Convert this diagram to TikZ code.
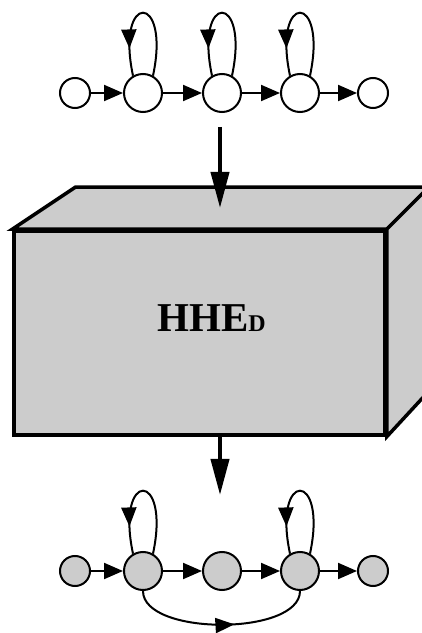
\documentclass[tikz,border=0pt]{standalone}
\usepackage{fontspec}
\setmainfont{Liberation Serif}
\usetikzlibrary{arrows.meta,decorations.markings,calc}
\definecolor{boxgrey}{RGB}{204,204,204}

\begin{document}
\begin{tikzpicture}[x=1pt, y=1pt,
    smallst/.style={circle, draw, line width=2pt, minimum size=30pt, inner sep=0pt},
    bigst/.style={circle, draw, line width=2pt, minimum size=38pt, inner sep=0pt},
    edge/.style={line width=2pt, -{Triangle[length=19pt,width=16pt]}},
    selfloop/.style={line width=2pt, postaction={decorate},
        decoration={markings, mark=at position 0.8 with {\arrow{Triangle[length=19pt,width=15pt]}}}},
    skip/.style={line width=2pt, postaction={decorate},
        decoration={markings, mark=at position 0.57 with {\arrow{Triangle[length=19pt,width=15pt]}}}},
    bigarrow/.style={line width=4pt, -{Triangle[length=36pt,width=18pt]}},
    face/.style={draw, fill=boxgrey, line width=3.5pt}]
    \useasboundingbox (0,0) rectangle (422,633);
    % input model
    \node[smallst] (t1) at (75,540) {};
    \node[bigst] (t2) at (143,540) {};
    \node[bigst] (t3) at (222,540) {};
    \node[bigst] (t4) at (300,540) {};
    \node[smallst] (t5) at (373,540) {};
    \draw[edge] (t1) -- (t2);
    \draw[edge] (t2) -- (t3);
    \draw[edge] (t3) -- (t4);
    \draw[edge] (t4) -- (t5);
    \draw[selfloop] (t2.60) .. controls +(18,84) and +(-18,84) .. (t2.120);
    \draw[selfloop] (t3.60) .. controls +(18,84) and +(-18,84) .. (t3.120);
    \draw[selfloop] (t4.60) .. controls +(18,84) and +(-18,84) .. (t4.120);
    % the box
    \node[face, minimum width=371pt, minimum height=204pt, inner sep=0pt] (hhed) at (199.5,300) {};
    \draw[face] (hhed.north west) -- ++(63,42) -- ($(hhed.north east)+(42,42)$)
        -- (hhed.north east) -- cycle;
    \draw[face] (hhed.north east) -- ++(42,42) -- ++(0,-204) -- (hhed.south east) -- cycle;
    \node[font=\bfseries\fontsize{41}{41}\selectfont, anchor=base, inner sep=0pt]
        (hhedtext) at (211.5,301) {HHE{\fontsize{24}{24}\selectfont D}};
    \coordinate (feed) at (220,506);
    \coordinate (drop) at (220,425);
    \coordinate (emit) at (220,138);
    \draw[bigarrow] (feed) -- (drop);
    \draw[bigarrow] (emit |- hhed.south) -- (emit);
    % output model
    \node[smallst, fill=boxgrey] (b1) at (75,62) {};
    \node[bigst, fill=boxgrey] (b2) at (143,62) {};
    \node[bigst, fill=boxgrey] (b3) at (222,62) {};
    \node[bigst, fill=boxgrey] (b4) at (300,62) {};
    \node[smallst, fill=boxgrey] (b5) at (373,62) {};
    \draw[edge] (b1) -- (b2);
    \draw[edge] (b2) -- (b3);
    \draw[edge] (b3) -- (b4);
    \draw[edge] (b4) -- (b5);
    \draw[selfloop] (b2.60) .. controls +(18,84) and +(-18,84) .. (b2.120);
    \draw[selfloop] (b4.60) .. controls +(18,84) and +(-18,84) .. (b4.120);
    \draw[skip] (b2.south) .. controls +(0,-45) and +(0,-45) .. (b4.south);
\end{tikzpicture}
\end{document}
